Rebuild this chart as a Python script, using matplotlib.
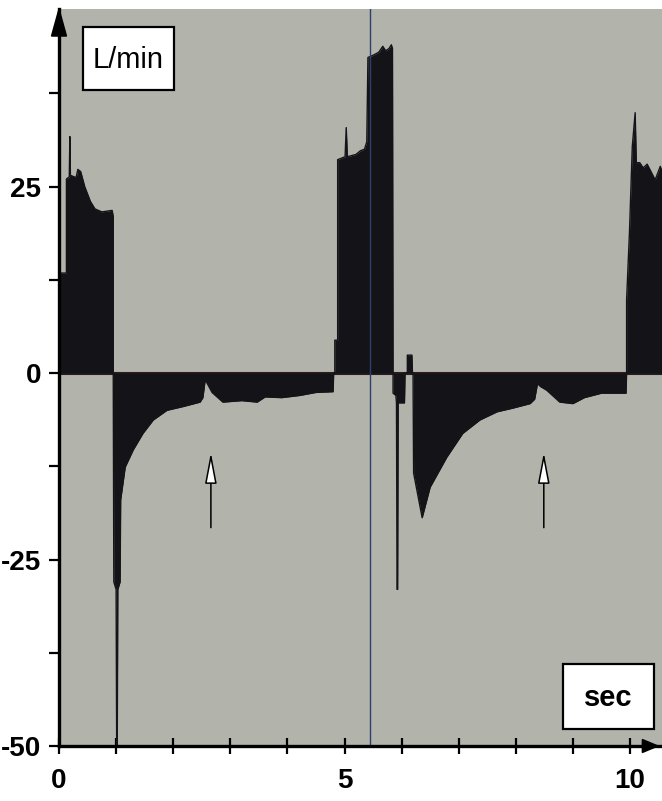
import matplotlib
matplotlib.use("Agg")
import matplotlib.pyplot as plt
from matplotlib.patches import Rectangle, Polygon
import numpy as np

# ---- data ----
time_s = [0.00, 0.00, 0.13, 0.13, 0.18, 0.19, 0.20, 0.30, 0.33, 0.38, 0.45, 0.55, 0.63, 0.75, 0.93, 0.95, 0.95,
          0.96, 1.00, 1.01, 1.02, 1.03, 1.07, 1.08, 1.16, 1.30, 1.47, 1.65, 1.89, 2.17, 2.47, 2.52, 2.56, 2.61,
          2.68, 2.87, 3.20, 3.47, 3.61, 3.90, 4.22, 4.50, 4.80, 4.81,
          4.83, 4.83, 4.88, 4.88, 5.01, 5.03, 5.05, 5.20, 5.28, 5.35, 5.39, 5.41, 5.50, 5.60, 5.67, 5.72, 5.78,
          5.82, 5.84, 5.85,
          5.85, 5.90, 5.91, 5.92, 5.93, 5.94, 6.05, 6.06, 6.10, 6.10, 6.18, 6.19, 6.20, 6.21, 6.36, 6.50, 6.79,
          7.07, 7.37, 7.67, 7.95, 8.25, 8.33, 8.38, 8.43, 8.54, 8.77, 9.00, 9.20, 9.50, 9.93, 9.94,
          9.94, 9.99, 10.04, 10.09, 10.11, 10.17, 10.23, 10.30, 10.44, 10.53, 10.56]
flow_lpm = [0.0, 13.4, 13.4, 26.0, 26.3, 31.7, 26.5, 26.2, 27.3, 27.0, 25.0, 23.0, 22.0, 21.6, 21.8, 21.0, 0.0,
            -28.0, -29.0, -50.0, -50.0, -29.0, -28.0, -17.0, -12.6, -10.3, -8.1, -6.3, -5.0, -4.5, -3.9, -3.3,
            -0.9, -1.6, -2.6, -3.9, -3.7, -3.9, -3.2, -3.3, -3.0, -2.6, -2.5, 0.0,
            0.0, 4.4, 4.4, 28.6, 29.0, 32.9, 29.0, 29.3, 29.8, 30.0, 31.0, 42.3, 42.6, 43.0, 43.8, 43.2, 43.5,
            44.0, 43.5, 0.0,
            -2.7, -3.0, -4.0, -29.0, -29.0, -4.0, -4.0, 0.0, 0.0, 2.4, 2.4, 0.0, 0.0, -13.4, -19.4, -15.3, -11.3,
            -8.1, -6.3, -5.2, -4.7, -4.1, -3.5, -1.4, -1.8, -2.3, -3.9, -4.1, -3.3, -2.7, -2.7, 0.0,
            9.8, 18.8, 30.4, 34.9, 28.2, 28.2, 27.5, 28.0, 25.9, 27.7, 27.0]

arrow_times = [2.66, 8.49]
arrow_tip, arrow_tail = -10.3, -21.1
cursor_time = 5.45

x_ticks = list(range(0, 11))
x_labels = ["0", "", "", "", "", "5", "", "", "", "", "10"]
y_ticks = [-50, -37.5, -25, -12.5, 0, 12.5, 25, 37.5]
y_labels = ["-50", "", "-25", "", "0", "", "25", ""]

FONT = ["Liberation Sans Narrow", "Liberation Sans", "DejaVu Sans"]

fig = plt.figure(figsize=(6.62, 8.01), dpi=100)
fig.patch.set_facecolor("white")
ax = fig.add_axes([59 / 662, 55 / 801, 1 - 59 / 662, 737 / 801])
ax.set_facecolor("#b2b3ab")
ax.set_xlim(0, 10.56)
ax.set_ylim(-50, 48.8)

t = np.array(time_s)
f = np.array(flow_lpm)
ink = "#141418"
ax.axhline(0, color="#2a1c1c", lw=2.2, zorder=2)
ax.fill_between(t, f, 0, color=ink, lw=0, zorder=3)
ax.plot(t, f, color=ink, lw=1.0, zorder=3)

ax.axvline(cursor_time, color="#2e3f6e", lw=1.0, zorder=4)

for at in arrow_times:
    ax.annotate("", xy=(at, arrow_tip), xytext=(at, arrow_tail),
                arrowprops=dict(arrowstyle="-|>,head_length=1.9,head_width=0.36",
                                mutation_scale=10, fc="white", ec="black", lw=1.1),
                zorder=5)

# spines
for s in ["top", "right"]:
    ax.spines[s].set_visible(False)
for s in ["left", "bottom"]:
    ax.spines[s].set_linewidth(2.4)
    ax.spines[s].set_color("black")
    ax.spines[s].set_zorder(6)

ax.set_xticks(x_ticks)
ax.set_xticklabels(x_labels)
ax.set_yticks(y_ticks)
ax.set_yticklabels(y_labels)
ax.tick_params(axis="x", direction="inout", length=11, width=1.6, pad=10, labelsize=20)
ax.tick_params(axis="y", direction="out", length=7, width=1.6, pad=6, labelsize=20)
for lab in ax.get_xticklabels() + ax.get_yticklabels():
    lab.set_family(FONT)
    lab.set_fontweight("bold")

# axis arrowheads
ax.add_patch(Polygon([[0, 1.0], [-0.0124, 1 - 0.0367], [0.0124, 1 - 0.0367]], closed=True,
                     transform=ax.transAxes, fc="black", ec="black", clip_on=False, zorder=7))
ax.add_patch(Polygon([[0.9934, 0], [0.9934 - 0.026, 0.0088], [0.9934 - 0.026, -0.0088]], closed=True,
                     transform=ax.transAxes, fc="black", ec="black", clip_on=False, zorder=7))

# label boxes
ax.add_patch(Rectangle((0.42, 38.0), 1.59, 8.4, fc="white", ec="black", lw=1.6, zorder=6))
ax.text(1.215, 42.0, "L/min", ha="center", va="center", fontsize=21, family=FONT, zorder=7)
ax.add_patch(Rectangle((8.83, -47.7), 1.59, 8.7, fc="white", ec="black", lw=1.6, zorder=6))
ax.text(9.625, -43.6, "sec", ha="center", va="center", fontsize=21, family=FONT,
        fontweight="bold", zorder=7)

fig.savefig("out.png", dpi=100, facecolor="white")
